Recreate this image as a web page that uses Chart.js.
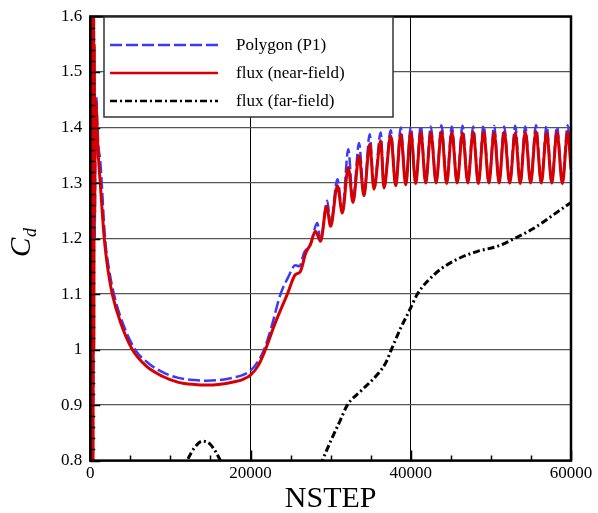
<!DOCTYPE html>
<html>
<head>
<meta charset="utf-8">
<script src="https://cdn.jsdelivr.net/npm/chart.js@4.4.1/dist/chart.umd.min.js"></script>
<style>
  html, body { margin: 0; padding: 0; background: #fff; }
  #wrap { width: 598px; height: 513px; }
</style>
</head>
<body>
<div id="wrap"><canvas id="cd" width="598" height="513"></canvas></div>
<script>
const SERIF = "'Liberation Serif', 'Times New Roman', serif";

// Polygon (P1)
const polySteps = [0, 60, 130, 200, 280, 360, 450, 550, 650, 750, 850, 1000, 1250,
    1850, 2400, 2950, 4000, 5600, 7300, 9200, 11000, 13000, 14500, 16000, 18000, 19000, 20000,
    21000, 21700, 22600, 23750, 24700, 25600, 26100, 26700, 27500, 28330, 28750, 29580, 30000,
    30850, 31460, 32200, 32790, 33540, 34160, 34875, 35410, 36250, 36660, 37500, 38125, 38750,
    39375, 40000, 40620, 41250, 41870, 42500, 43170, 43840, 44480, 45125, 45790, 46460, 47120,
    47790, 48440, 49090, 49750, 50410, 51030, 51660, 52350, 53040, 53660, 54290, 54960, 55625,
    56290, 56960, 57600, 58250, 58920, 59590, 60000];
const polyCd = [1.2, 0.5, 1.9, 0.6, 1.8, 0.9, 1.6, 1.2, 1.40, 1.457, 1.42, 1.37, 1.34,
    1.20, 1.14, 1.10, 1.05, 1.00, 0.975, 0.958, 0.949, 0.945, 0.944, 0.945, 0.950, 0.954, 0.962,
    0.980, 1.00, 1.04, 1.10, 1.13, 1.152, 1.15, 1.175, 1.19, 1.228, 1.198, 1.268, 1.225,
    1.307, 1.248, 1.361, 1.267, 1.372, 1.279, 1.388, 1.290, 1.391, 1.292, 1.395, 1.296, 1.400,
    1.298, 1.401, 1.300, 1.403, 1.300, 1.402, 1.301, 1.404, 1.300, 1.402, 1.300, 1.403, 1.301,
    1.402, 1.300, 1.404, 1.300, 1.403, 1.301, 1.402, 1.300, 1.403, 1.300, 1.402, 1.301, 1.404,
    1.300, 1.403, 1.300, 1.402, 1.301, 1.404, 1.335];

// flux (near-field)
const nearSteps = [0, 40, 80, 120, 160, 200, 250, 300, 350, 400, 450, 500, 560, 620, 700,
    800, 900, 1050, 1250, 1750, 2250, 2750, 3750, 5250, 7000, 9000, 11000, 13000, 14500, 16000,
    18000, 19000, 20000, 21000, 22000, 23000, 24600, 25600, 26200, 26900, 27500, 28100, 28750, 29500,
    30000, 30850, 31460, 32200, 32790, 33540, 34160, 34875, 35410, 36250, 36660, 37500, 38125,
    38750, 39375, 40000, 40620, 41250, 41870, 42500, 43170, 43840, 44480, 45125, 45790, 46460,
    47120, 47790, 48440, 49090, 49750, 50410, 51030, 51660, 52350, 53040, 53660, 54290, 54960,
    55625, 56290, 56960, 57600, 58250, 58920, 59590, 60000];
const nearCd = [1.0, 2.2, 0.4, 2.0, 0.5, 1.9, 0.6, 1.8, 0.8, 1.7, 1.0, 1.55, 1.25, 1.42, 1.448,
    1.42, 1.38, 1.34, 1.30, 1.20, 1.14, 1.10, 1.05, 1.00, 0.97, 0.952, 0.941, 0.937, 0.936, 0.937,
    0.942, 0.946, 0.954, 0.972, 1.005, 1.045, 1.10, 1.135, 1.14, 1.174, 1.19, 1.213, 1.195, 1.258,
    1.222, 1.295, 1.246, 1.328, 1.265, 1.349, 1.277, 1.370, 1.289, 1.376, 1.291, 1.385, 1.295,
    1.388, 1.297, 1.391, 1.299, 1.392, 1.300, 1.391, 1.300, 1.393, 1.299, 1.392, 1.300, 1.390,
    1.300, 1.392, 1.299, 1.393, 1.300, 1.391, 1.300, 1.392, 1.300, 1.390, 1.299, 1.392, 1.300,
    1.393, 1.300, 1.391, 1.300, 1.392, 1.299, 1.392, 1.325];

// flux (far-field)
const farSteps = [10000, 11000, 12100, 13000, 14000, 15000, 16250, 17500, 19000, 22000, 26000,
    27500, 28960, 30000, 31250, 32080, 33750, 35830, 36875, 37580, 38750, 39790, 40830, 42080,
    43750, 45830, 48330, 50830, 52920, 55420, 57920, 60000];
const farCd = [0.70, 0.76, 0.80, 0.823, 0.835, 0.829, 0.80, 0.76, 0.72, 0.68, 0.70,
    0.75, 0.80, 0.835, 0.874, 0.90, 0.925, 0.955, 0.976, 1.00, 1.039, 1.069, 1.10, 1.123,
    1.145, 1.163, 1.177, 1.186, 1.20, 1.219, 1.244, 1.265];

const yTicks = [0.8, 0.9, 1.0, 1.1, 1.2, 1.3, 1.4, 1.5, 1.6];
const xTicks = [0, 20000, 40000, 60000];

const legendItems = [
    { text: 'Polygon (P1)', color: '#3a3aff', dash: [12, 4], width: 2.5 },
    { text: 'flux (near-field)', color: '#d60000', dash: [], width: 2.5 },
    { text: 'flux (far-field)', color: '#000000', dash: [7, 3, 2, 3], width: 2.5 }
];

const toPoints = (xs, ys) => xs.map((x, i) => ({ x: x, y: ys[i] }));

// inner ticks, frame, boxed legend and the C_d label
const decorations = {
    id: 'decorations',
    afterDraw(chart) {
        const ctx = chart.ctx;
        const a = chart.chartArea;
        const xs = chart.scales.x, ys = chart.scales.y;
        ctx.save();
        ctx.strokeStyle = '#000';
        ctx.lineWidth = 1.5;
        ctx.beginPath();
        for (let v = 0.8; v <= 1.6001; v += 0.02) {
            const py = Math.round(ys.getPixelForValue(v)) + 0.5;
            const major = Math.abs(v * 10 - Math.round(v * 10)) < 1e-6;
            ctx.moveTo(a.left, py);
            ctx.lineTo(a.left + (major ? 10 : 5), py);
        }
        for (let v = 0; v <= 60000; v += 5000) {
            const px = Math.round(xs.getPixelForValue(v)) + 0.5;
            const major = v % 20000 === 0;
            ctx.moveTo(px, a.bottom);
            ctx.lineTo(px, a.bottom - (major ? 10 : 5));
        }
        ctx.stroke();

        ctx.lineWidth = 2.5;
        ctx.strokeRect(a.left, a.top, a.right - a.left, a.bottom - a.top);

        // legend box
        const lx = 104, ly = 17, lw = 289, lh = 100;
        ctx.fillStyle = '#fff';
        ctx.fillRect(lx, ly, lw, lh);
        ctx.lineWidth = 1.5;
        ctx.strokeStyle = '#333';
        ctx.strokeRect(lx, ly, lw, lh);
        ctx.font = '17px ' + SERIF;
        ctx.textBaseline = 'middle';
        ctx.textAlign = 'left';
        legendItems.forEach((it, i) => {
            const yy = 45 + i * 28;
            ctx.strokeStyle = it.color;
            ctx.lineWidth = it.width;
            ctx.setLineDash(it.dash);
            ctx.beginPath();
            ctx.moveTo(110, yy);
            ctx.lineTo(218, yy);
            ctx.stroke();
            ctx.setLineDash([]);
            ctx.fillStyle = '#000';
            ctx.fillText(it.text, 236, yy + 1);
        });

        // y-axis title
        ctx.translate(30, 244);
        ctx.rotate(-Math.PI / 2);
        ctx.fillStyle = '#000';
        ctx.textBaseline = 'alphabetic';
        ctx.font = 'italic 29px ' + SERIF;
        ctx.fillText('C', -13, 0);
        ctx.font = 'italic 18px ' + SERIF;
        ctx.fillText('d', 7, 6);
        ctx.restore();
    }
};

new Chart(document.getElementById('cd'), {
    type: 'line',
    data: {
        datasets: [
            {
                label: 'flux (near-field)',
                data: toPoints(nearSteps, nearCd),
                borderColor: '#d60000',
                borderWidth: 3,
                order: 0
            },
            {
                label: 'Polygon (P1)',
                data: toPoints(polySteps, polyCd),
                borderColor: '#3a3aff',
                borderWidth: 2.5,
                borderDash: [12, 4],
                order: 1
            },
            {
                label: 'flux (far-field)',
                data: toPoints(farSteps, farCd),
                borderColor: '#000',
                borderWidth: 3,
                borderDash: [7, 3, 2, 3],
                order: 2
            }
        ]
    },
    options: {
        responsive: false,
        animation: false,
        events: [],
        layout: { padding: { left: 53, top: 15, right: 27, bottom: 2 } },
        elements: {
            point: { radius: 0 },
            line: { cubicInterpolationMode: 'monotone', fill: false }
        },
        plugins: {
            legend: { display: false },
            tooltip: { enabled: false }
        },
        scales: {
            x: {
                type: 'linear',
                min: 0,
                max: 60000,
                afterBuildTicks: (s) => { s.ticks = xTicks.map(v => ({ value: v })); },
                ticks: {
                    callback: (v) => String(v),
                    maxRotation: 0,
                    padding: 3,
                    color: '#000',
                    font: { family: SERIF, size: 17 }
                },
                grid: { color: '#000', lineWidth: 1, drawTicks: false },
                border: { display: false },
                title: {
                    display: true,
                    text: 'NSTEP',
                    color: '#000',
                    font: { family: SERIF, size: 30, lineHeight: 0.8 },
                    padding: { top: 0, bottom: 0 }
                }
            },
            y: {
                type: 'linear',
                min: 0.8,
                max: 1.6,
                afterBuildTicks: (s) => { s.ticks = yTicks.map(v => ({ value: v })); },
                ticks: {
                    callback: (v) => String(+v.toFixed(1)),
                    padding: 8,
                    color: '#000',
                    font: { family: SERIF, size: 17, lineHeight: 1.0 }
                },
                grid: { color: '#555', lineWidth: 1.3, drawTicks: false },
                border: { display: false }
            }
        }
    },
    plugins: [decorations]
});
</script>
</body>
</html>
